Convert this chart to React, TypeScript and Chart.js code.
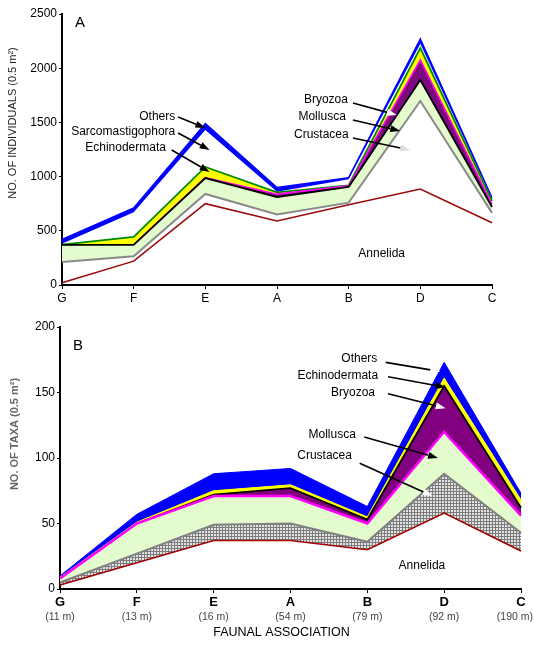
import React, { useEffect, useRef } from "react";
import { Chart, registerables } from "chart.js";

Chart.register(...registerables);

const FONT = "'Liberation Sans', Arial, sans-serif";

// ---------- shared categories ----------
const categories = ["G", "F", "E", "A", "B", "D", "C"];
const depths = ["(11 m)", "(13 m)", "(16 m)", "(54 m)", "(79 m)", "(92 m)", "(190 m)"];

// ---------- Panel A : number of individuals (0.5 m2), stacked layers ----------
const indAnnelida = [20, 220, 750, 590, 740, 885, 575];
const indCrustacea = [192, 45, 90, 60, 20, 812, 90];
const indMollusca = [158, 105, 147, 162, 145, 194, 55];
const indBryozoa = [0, 0, 3, 26, 10, 185, 25];
const indEchinodermata = [2, 73, 99, 17, 5, 110, 30];
const indSarcomastigophora = [8, 229, 341, 5, 55, 39, 15];
const indOthers = [40, 38, 60, 40, 15, 44, 15];
const indTicks = [0, 500, 1000, 1500, 2000, 2500];

// ---------- Panel B : number of taxa (0.5 m2), stacked layers ----------
const taxAnnelida = [3, 20, 37, 37, 30, 58, 29];
const taxCrustacea = [2, 7, 12, 13, 6, 30, 14];
const taxMollusca = [3, 23, 22, 21, 14, 32, 13];
const taxBryozoa = [0, 0, 1, 6, 3, 35, 6];
const taxEchinodermata = [1, 1, 3, 2.5, 2, 6, 6];
const taxOthers = [1, 6, 13, 12.5, 8, 12, 5];
const taxTicks = [0, 50, 100, 150, 200];

// ---------- annotation labels (data coordinates: category index, value) ----------
type Ann = {
  text: string;
  tx: number;
  ty: number;
  align: CanvasTextAlign;
  from?: [number, number];
  to?: [number, number];
  head?: string;
};

const annA: Ann[] = [
  { text: "Others", tx: 1.58, ty: 1550, align: "right", from: [1.62, 1550], to: [2.0, 1448], head: "#000" },
  { text: "Sarcomastigophora", tx: 1.58, ty: 1411, align: "right", from: [1.62, 1402], to: [2.06, 1245], head: "#000" },
  { text: "Echinodermata", tx: 1.45, ty: 1264, align: "right", from: [1.53, 1245], to: [2.06, 1042], head: "#000" },
  { text: "Bryozoa", tx: 3.99, ty: 1707, align: "right", from: [4.06, 1679], to: [4.67, 1568], head: "#fff" },
  { text: "Mollusca", tx: 3.96, ty: 1550, align: "right", from: [4.06, 1522], to: [4.72, 1421], head: "#000" },
  { text: "Crustacea", tx: 4.0, ty: 1384, align: "right", from: [4.06, 1356], to: [4.86, 1245], head: "#ddd" },
  { text: "Annelida", tx: 4.46, ty: 286, align: "center" },
];

const annB: Ann[] = [
  { text: "Others", tx: 4.13, ty: 175.6, align: "right", from: [4.24, 173], to: [4.95, 166], head: "#fff" },
  { text: "Echinodermata", tx: 4.14, ty: 163, align: "right", from: [4.27, 162], to: [5.02, 154], head: "#000" },
  { text: "Bryozoa", tx: 4.1, ty: 150, align: "right", from: [4.27, 149], to: [5.02, 138], head: "#fff" },
  { text: "Mollusca", tx: 3.85, ty: 118, align: "right", from: [3.96, 116], to: [4.92, 100], head: "#000" },
  { text: "Crustacea", tx: 3.8, ty: 101.5, align: "right", from: [3.9, 96], to: [4.85, 71], head: "#fff" },
  { text: "Annelida", tx: 4.71, ty: 17.6, align: "center" },
];

function drawArrow(ctx: CanvasRenderingContext2D, x0: number, y0: number, x1: number, y1: number, head: string) {
  const ang = Math.atan2(y1 - y0, x1 - x0);
  const L = 10;
  const W = 3.5;
  const bx = x1 - L * Math.cos(ang);
  const by = y1 - L * Math.sin(ang);
  ctx.save();
  ctx.strokeStyle = "#000";
  ctx.lineWidth = 1.6;
  ctx.beginPath();
  ctx.moveTo(x0, y0);
  ctx.lineTo(bx, by);
  ctx.stroke();
  ctx.fillStyle = head;
  ctx.beginPath();
  ctx.moveTo(x1, y1);
  ctx.lineTo(bx + W * Math.sin(ang), by - W * Math.cos(ang));
  ctx.lineTo(bx - W * Math.sin(ang), by + W * Math.cos(ang));
  ctx.closePath();
  ctx.fill();
  ctx.restore();
}

function makeHatch(): CanvasPattern | string {
  const c = document.createElement("canvas");
  c.width = 3;
  c.height = 3;
  const g = c.getContext("2d");
  if (!g) return "#bbb";
  g.fillStyle = "#e4e4e4";
  g.fillRect(0, 0, 3, 3);
  g.fillStyle = "#7c7c7c";
  g.fillRect(0, 0, 3, 1);
  g.fillRect(0, 0, 1, 3);
  return g.createPattern(c, "repeat") || "#bbb";
}

type PanelOpts = {
  letter: string;
  yTitle: string;
  yTitleFont: string;
  yTitleColor: string;
  yTitleX: number;
  yTitleY: number;
  anns: Ann[];
  showDepths: boolean;
  xTitle?: string;
};

function overlayPlugin(o: PanelOpts) {
  return {
    id: "overlay" + o.letter,
    afterDraw(chart: any) {
      const ctx: CanvasRenderingContext2D = chart.ctx;
      const xs = chart.scales.x;
      const ys = chart.scales.y;
      const area = chart.chartArea;
      ctx.save();
      // annotations
      ctx.font = `12px ${FONT}`;
      ctx.fillStyle = "#000";
      ctx.textBaseline = "middle";
      for (const a of o.anns) {
        ctx.textAlign = a.align;
        ctx.fillText(a.text, xs.getPixelForValue(a.tx), ys.getPixelForValue(a.ty));
        if (a.from && a.to) {
          drawArrow(
            ctx,
            xs.getPixelForValue(a.from[0]),
            ys.getPixelForValue(a.from[1]),
            xs.getPixelForValue(a.to[0]),
            ys.getPixelForValue(a.to[1]),
            a.head || "#000"
          );
        }
      }
      // panel letter
      ctx.font = `15px ${FONT}`;
      ctx.textAlign = "center";
      ctx.fillStyle = "#000";
      ctx.fillText(o.letter, area.left + 18, area.top + (o.letter === "A" ? 9 : 19));
      // y title
      ctx.save();
      ctx.translate(o.yTitleX, o.yTitleY);
      ctx.rotate(-Math.PI / 2);
      ctx.font = o.yTitleFont;
      ctx.fillStyle = o.yTitleColor;
      ctx.textAlign = "center";
      ctx.fillText(o.yTitle, 0, 0);
      ctx.restore();
      // depths under categories
      if (o.showDepths) {
        ctx.font = `10.5px ${FONT}`;
        ctx.fillStyle = "#444";
        ctx.textAlign = "center";
        const maxRight = chart.width - 1;
        categories.forEach((_, i) => {
          const w = ctx.measureText(depths[i]).width;
          let cx = xs.getPixelForValue(i);
          if (cx + w / 2 > maxRight) cx = maxRight - w / 2;
          ctx.fillText(depths[i], cx, area.bottom + 28);
        });
      }
      if (o.xTitle) {
        ctx.font = `12.5px ${FONT}`;
        ctx.fillStyle = "#000";
        ctx.textAlign = "center";
        ctx.fillText(o.xTitle, (area.left + area.right) / 2 - 9, area.bottom + 44);
      }
      ctx.restore();
    },
  };
}

function baseScales(yMax: number, ticks: number[], yWidth: number, xHeight: number, xFont: any) {
  return {
    x: {
      type: "category" as const,
      offset: false,
      grid: { display: true, drawOnChartArea: false, drawTicks: true, tickLength: 4, color: "#000", lineWidth: 1 },
      border: { display: true, color: "#000", width: 2 },
      ticks: { color: "#000", font: xFont, padding: 2, maxRotation: 0, autoSkip: false },
      afterFit: (s: any) => {
        s.height = xHeight;
      },
    },
    y: {
      stacked: true,
      min: 0,
      max: yMax,
      afterBuildTicks: (s: any) => {
        s.ticks = ticks.map((v) => ({ value: v }));
      },
      grid: { display: true, drawOnChartArea: false, drawTicks: true, tickLength: 3, color: "#000", lineWidth: 1 },
      border: { display: true, color: "#000", width: 2 },
      ticks: {
        color: "#000",
        font: { size: 12, family: FONT },
        padding: 2,
        callback: (v: any) => String(v),
      },
      afterFit: (s: any) => {
        s.width = yWidth;
      },
    },
  };
}

function line(label: string, data: number[], border: string, bw: number, fill: any, bg: any) {
  return {
    label,
    data,
    borderColor: border,
    borderWidth: bw,
    backgroundColor: bg,
    fill,
    pointRadius: 0,
    pointHoverRadius: 0,
    tension: 0,
  };
}

export default function App() {
  const refA = useRef<HTMLCanvasElement | null>(null);
  const refB = useRef<HTMLCanvasElement | null>(null);

  useEffect(() => {
    Chart.defaults.font.family = FONT;
    const charts: Chart[] = [];

    if (refA.current) {
      charts.push(
        new Chart(refA.current, {
          type: "line",
          data: {
            labels: categories,
            datasets: [
              line("Annelida", indAnnelida, "#9a0a0a", 1.6, false, "transparent"),
              line("Crustacea", indCrustacea, "#8a8a8a", 2, false, "transparent"),
              line("Mollusca", indMollusca, "#000000", 1.8, "-1", "#e3fbcd"),
              line("Bryozoa", indBryozoa, "#ff00ff", 1.6, "-1", "#7d0a7d"),
              line("Echinodermata", indEchinodermata, "#008a00", 1.8, "-1", "#ffff00"),
              line("Sarcomastigophora", indSarcomastigophora, "rgba(0,0,0,0)", 0, false, "transparent"),
              line("Others", indOthers, "#0000ff", 1.5, "-1", "#0000ff"),
            ],
          } as any,
          options: {
            responsive: false,
            maintainAspectRatio: false,
            animation: false,
            layout: { padding: { left: 0, right: 42, top: 14, bottom: 0 } },
            plugins: { legend: { display: false }, tooltip: { enabled: false } },
            scales: baseScales(2500, indTicks, 62, 20, { size: 12, family: FONT }) as any,
          },
          plugins: [
            overlayPlugin({
              letter: "A",
              yTitle: "NO. OF INDIVIDUALS (0.5 m²)",
              yTitleFont: `11px ${FONT}`,
              yTitleColor: "#222",
              yTitleX: 13,
              yTitleY: 123,
              anns: annA,
              showDepths: false,
            }),
          ],
        })
      );
    }

    if (refB.current) {
      const hatch = makeHatch();
      charts.push(
        new Chart(refB.current, {
          type: "line",
          data: {
            labels: categories,
            datasets: [
              line("Annelida", taxAnnelida, "#a00000", 1.6, false, "transparent"),
              line("Crustacea", taxCrustacea, "#808080", 2, "-1", hatch),
              line("Mollusca", taxMollusca, "#ff00ff", 2.5, "-1", "#e3fbcd"),
              line("Bryozoa", taxBryozoa, "#000000", 1.8, "-1", "#800080"),
              line("Echinodermata", taxEchinodermata, "#ffff00", 1, "-1", "#ffff00"),
              line("Others", taxOthers, "#0000ff", 1, "-1", "#0000ff"),
            ],
          } as any,
          options: {
            responsive: false,
            maintainAspectRatio: false,
            animation: false,
            layout: { padding: { left: 0, right: 13, top: 22, bottom: 0 } },
            plugins: { legend: { display: false }, tooltip: { enabled: false } },
            scales: baseScales(200, taxTicks, 60, 62, { size: 13, weight: "bold", family: FONT }) as any,
          },
          plugins: [
            overlayPlugin({
              letter: "B",
              yTitle: "NO. OF TAXA (0.5 m²)",
              yTitleFont: `bold 11px ${FONT}`,
              yTitleColor: "#666",
              yTitleX: 15,
              yTitleY: 129,
              anns: annB,
              showDepths: true,
              xTitle: "FAUNAL ASSOCIATION",
            }),
          ],
        })
      );
    }

    return () => {
      charts.forEach((c) => c.destroy());
    };
  }, []);

  return (
    <div style={{ position: "absolute", left: 0, top: 0, width: 534, height: 651, background: "#fff" }}>
      <canvas ref={refA} width={534} height={305} style={{ position: "absolute", left: 0, top: 0, display: "block" }} />
      <canvas ref={refB} width={534} height={346} style={{ position: "absolute", left: 0, top: 305, display: "block" }} />
    </div>
  );
}
